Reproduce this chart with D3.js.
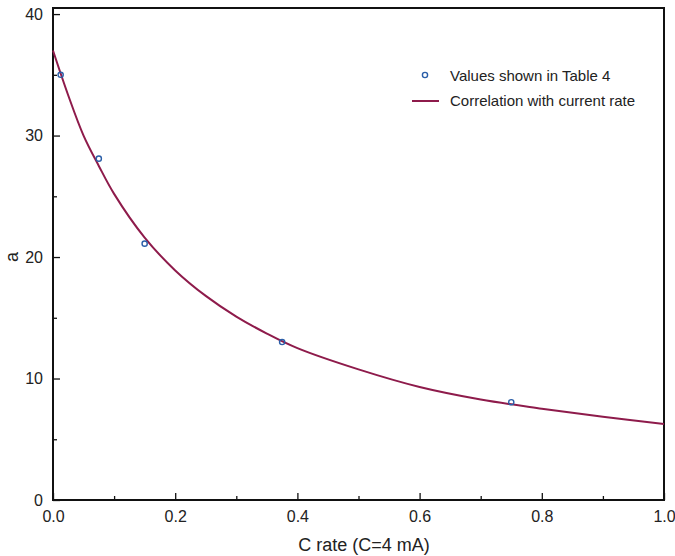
<!DOCTYPE html>
<html>
<head>
<meta charset="utf-8">
<script src="https://cdn.jsdelivr.net/npm/d3@7"></script>
<style>
  html, body { margin: 0; padding: 0; background: #fff; }
  svg { display: block; font-family: "Liberation Sans", Arial, sans-serif; }
</style>
</head>
<body>
<svg id="chart" width="675" height="556"></svg>
<script>
// Measured values of a at each C rate
const cRate = [0.0125, 0.075, 0.15, 0.375, 0.75];
const aValues = [35.0, 28.1, 21.1, 13.0, 8.05];

// Correlation curve, a as a function of C rate
const curveX = [0, 0.025, 0.05, 0.075, 0.1, 0.15, 0.2, 0.25, 0.3, 0.35, 0.4, 0.5, 0.6, 0.7, 0.8, 0.9, 1.0];
const curveA = [37.0, 33.3, 30.0, 27.5, 25.2, 21.6, 18.9, 16.8, 15.1, 13.7, 12.5, 10.75, 9.3, 8.27, 7.52, 6.85, 6.25];

const xTicks = [0, 0.2, 0.4, 0.6, 0.8, 1.0];
const xMinor = [0.1, 0.3, 0.5, 0.7, 0.9];
const yTicks = [0, 10, 20, 30, 40];
const yMinor = [5, 15, 25, 35];

const legendLabels = ["Values shown in Table 4", "Correlation with current rate"];

(function () {
  const svg = d3.select("#chart");
  const plotLeft = 53, plotRight = 664, plotTop = 8, plotBottom = 500;

  const x = d3.scaleLinear().domain([0, 1]).range([plotLeft, plotRight]);
  const y = d3.scaleLinear().domain([0, 40.5]).range([plotBottom, plotTop]);

  const lineColor = "#8e1b4b";
  const markColor = "#2a5ea8";

  // Inward ticks on bottom and left
  const xAxis = d3.axisBottom(x).tickValues(xTicks).tickSize(-7).tickPadding(11)
    .tickFormat(d3.format(".1f"));
  const xAxisMinor = d3.axisBottom(x).tickValues(xMinor).tickSize(-4).tickFormat("");
  const yAxis = d3.axisLeft(y).tickValues(yTicks).tickSize(-7).tickPadding(10)
    .tickFormat(d3.format("d"));
  const yAxisMinor = d3.axisLeft(y).tickValues(yMinor).tickSize(-4).tickFormat("");

  function styleAxis(g) {
    g.select(".domain").remove();
    g.selectAll(".tick line").attr("stroke", "#111").attr("stroke-width", 1.3);
    g.selectAll(".tick text").attr("fill", "#222").style("font-size", "16px")
      .style("font-family", "'Liberation Sans', Arial, sans-serif");
  }

  svg.append("g").attr("transform", `translate(0,${plotBottom})`).call(xAxis).call(styleAxis);
  svg.append("g").attr("transform", `translate(0,${plotBottom})`).call(xAxisMinor).call(styleAxis);
  svg.append("g").attr("transform", `translate(${plotLeft},0)`).call(yAxis).call(styleAxis);
  svg.append("g").attr("transform", `translate(${plotLeft},0)`).call(yAxisMinor).call(styleAxis);

  // Plot frame
  svg.append("rect")
    .attr("x", plotLeft).attr("y", plotTop)
    .attr("width", plotRight - plotLeft).attr("height", plotBottom - plotTop)
    .attr("fill", "none").attr("stroke", "#111").attr("stroke-width", 2);

  // Correlation curve
  const line = d3.line().x(d => x(d[0])).y(d => y(d[1])).curve(d3.curveCatmullRom.alpha(0.5));
  svg.append("path")
    .datum(curveX.map((v, i) => [v, curveA[i]]))
    .attr("d", line)
    .attr("fill", "none").attr("stroke", lineColor).attr("stroke-width", 2);

  // Measured points
  svg.append("g").selectAll("circle")
    .data(cRate.map((v, i) => [v, aValues[i]]))
    .join("circle")
    .attr("cx", d => x(d[0])).attr("cy", d => y(d[1])).attr("r", 2.6)
    .attr("fill", "none").attr("stroke", markColor).attr("stroke-width", 1.4);

  // Axis titles
  svg.append("text")
    .attr("x", 364).attr("y", 551)
    .attr("text-anchor", "middle").attr("fill", "#222")
    .style("font-size", "18px").text("C rate (C=4 mA)");

  svg.append("text")
    .attr("transform", `translate(18,${y(20)}) rotate(-90)`)
    .attr("text-anchor", "middle").attr("fill", "#222")
    .style("font-size", "18px").text("a");

  // Legend
  const legend = svg.append("g");
  legend.append("circle").attr("cx", 425).attr("cy", 75).attr("r", 2.6)
    .attr("fill", "none").attr("stroke", markColor).attr("stroke-width", 1.4);
  legend.append("line").attr("x1", 412).attr("x2", 439).attr("y1", 101).attr("y2", 101)
    .attr("stroke", lineColor).attr("stroke-width", 2);
  legend.selectAll("text.lg").data(legendLabels).join("text")
    .attr("class", "lg")
    .attr("x", 450).attr("y", (d, i) => 81 + i * 25)
    .attr("fill", "#222").style("font-size", "15px").text(d => d);
})();
</script>
</body>
</html>
